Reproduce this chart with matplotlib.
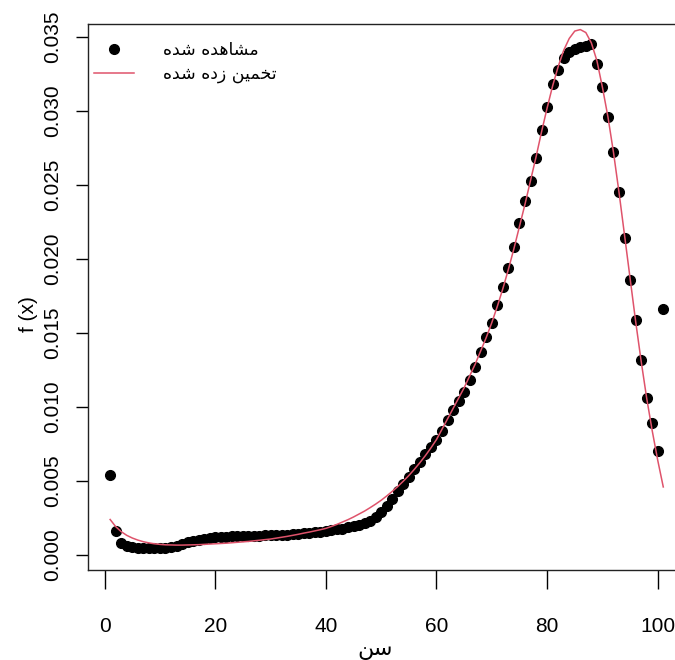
import numpy as np
import matplotlib
matplotlib.use('Agg')
import matplotlib.pyplot as plt
from matplotlib import font_manager as fm

age = np.arange(1, 102)

observed = [
    0.0054, 0.0016, 0.00082, 0.0006, 0.00052, 0.00049, 0.00047, 0.00046, 0.00046, 0.00047,
    0.00049, 0.00054, 0.00063, 0.00074, 0.00086, 0.00096, 0.00104, 0.00111, 0.00116, 0.0012,
    0.00123, 0.00125, 0.00127, 0.00128, 0.00129, 0.0013, 0.0013, 0.00131, 0.00132, 0.00133,
    0.00134, 0.00136, 0.00138, 0.00141, 0.00144, 0.00147, 0.0015, 0.00154, 0.00158, 0.00162,
    0.00167, 0.00173, 0.00179, 0.00186, 0.00194, 0.00204, 0.00216, 0.0023, 0.0026, 0.0029,
    0.0033, 0.0038, 0.0043, 0.0048, 0.0053, 0.0058, 0.0063, 0.0068, 0.0073, 0.0078,
    0.0084, 0.0091, 0.0098, 0.0104, 0.0110, 0.0118, 0.0127, 0.0137, 0.0147, 0.0157,
    0.0169, 0.0181, 0.0194, 0.0208, 0.0224, 0.0239, 0.0253, 0.0268, 0.0287, 0.0303,
    0.0318, 0.0328, 0.0336, 0.0340, 0.0342, 0.0343, 0.0344, 0.0345, 0.0332, 0.0316,
    0.0296, 0.0272, 0.0245, 0.0214, 0.0186, 0.0159, 0.0132, 0.0106, 0.0089, 0.0070,
    0.0166,
]

fitted = [
    0.0024, 0.00192, 0.00158, 0.00133, 0.00115, 0.00101, 0.0009, 0.00082, 0.00076, 0.00072,
    0.00069, 0.00068, 0.00067, 0.00067, 0.00068, 0.00069, 0.0007, 0.00072, 0.00074, 0.00076,
    0.00078, 0.0008, 0.00083, 0.00086, 0.00089, 0.00092, 0.00096, 0.001, 0.00104, 0.00108,
    0.00114, 0.0012, 0.00126, 0.00133, 0.0014, 0.00148, 0.00155, 0.00163, 0.00171, 0.0018,
    0.00193, 0.00207, 0.00223, 0.00239, 0.00257, 0.00277, 0.00297, 0.0032, 0.00344, 0.0037,
    0.00399, 0.0043, 0.00463, 0.00499, 0.00537, 0.00579, 0.00624, 0.00672, 0.00724, 0.0078,
    0.0085, 0.0092, 0.0099, 0.0106, 0.0113, 0.0121, 0.0129, 0.0138, 0.0147, 0.0157,
    0.0168, 0.018, 0.0193, 0.0207, 0.0222, 0.0237, 0.0253, 0.0269, 0.0286, 0.0302,
    0.0317, 0.033, 0.0341, 0.0349, 0.0354, 0.0355, 0.0353, 0.0346, 0.0334, 0.0316,
    0.0296, 0.0272, 0.0245, 0.0216, 0.0187, 0.0158, 0.0131, 0.0106, 0.0084, 0.0064,
    0.0046,
]

xticks = [0, 20, 40, 60, 80, 100]
yticks = [0.000, 0.005, 0.010, 0.015, 0.020, 0.025, 0.030, 0.035]

label_obs = 'مشاهده شده'
label_fit = 'تخمین زده شده'
label_x = 'سن'
label_y = 'f (x)'


# matplotlib has no arabic shaping: map letters to presentation forms
# (isolated, final, initial, medial) and flip to visual order
FORMS = {
    'ا': ('\uFE8D', '\uFE8E', None, None),
    'د': ('\uFEA9', '\uFEAA', None, None),
    'ز': ('\uFEAF', '\uFEB0', None, None),
    'ه': ('\uFEE9', '\uFEEA', '\uFEEB', '\uFEEC'),
    'م': ('\uFEE1', '\uFEE2', '\uFEE3', '\uFEE4'),
    'ش': ('\uFEB5', '\uFEB6', '\uFEB7', '\uFEB8'),
    'ت': ('\uFE95', '\uFE96', '\uFE97', '\uFE98'),
    'خ': ('\uFEA5', '\uFEA6', '\uFEA7', '\uFEA8'),
    'ی': ('\uFEF1', '\uFEF2', '\uFEF3', '\uFEF4'),
    'ن': ('\uFEE5', '\uFEE6', '\uFEE7', '\uFEE8'),
    'س': ('\uFEB1', '\uFEB2', '\uFEB3', '\uFEB4'),
}


def shape(s):
    out = []
    for i, ch in enumerate(s):
        if ch not in FORMS:
            out.append(ch)
            continue
        prev = s[i - 1] if i > 0 else ''
        nxt = s[i + 1] if i + 1 < len(s) else ''
        j_prev = prev in FORMS and FORMS[prev][2] is not None
        j_next = nxt in FORMS and FORMS[ch][2] is not None
        if j_prev and j_next:
            out.append(FORMS[ch][3])
        elif j_prev:
            out.append(FORMS[ch][1])
        elif j_next:
            out.append(FORMS[ch][2])
        else:
            out.append(FORMS[ch][0])
    return ''.join(out[::-1])


names = {f.name for f in fm.fontManager.ttflist}
narrow = 'Liberation Sans Narrow' if 'Liberation Sans Narrow' in names else 'Liberation Sans'

plt.rcParams['font.family'] = ['Liberation Sans', 'DejaVu Sans']

fig = plt.figure(figsize=(6.75, 6.6), dpi=100)
ax = fig.add_axes([0.1304, 0.1364, 0.885, 0.8273])

ax.plot(age, observed, 'o', ls='none', color='black', ms=7, label=shape(label_obs))
ax.plot(age, fitted, '-', color='#DF536B', lw=1.1, label=shape(label_fit))

ax.set_xlim(-3, 105)
ax.set_ylim(-0.00101, 0.03588)

ax.set_xticks(xticks)
ax.set_xticklabels([str(v) for v in xticks], fontsize=15, family=narrow)
ax.set_yticks(yticks)
ax.set_yticklabels(['%.3f' % v for v in yticks], fontsize=15, rotation=90, va='center')
ax.tick_params(axis='x', length=14, width=1, pad=20)
ax.tick_params(axis='y', length=9, width=1, pad=10)

for sp in ax.spines.values():
    sp.set_linewidth(1.0)
    sp.set_color('#222222')

ax.set_xlabel(shape(label_x), fontsize=16, family=['DejaVu Sans'])
ax.xaxis.label.set_verticalalignment('center')
ax.xaxis.set_label_coords(0.48, -0.146)
ax.set_ylabel(label_y, fontsize=15)
ax.yaxis.label.set_verticalalignment('center')
ax.yaxis.set_label_coords(-0.10, 0.469)

ax.legend(loc='upper left', bbox_to_anchor=(-0.009, 0.99), frameon=False,
          prop={'family': 'DejaVu Sans', 'size': 12.5},
          numpoints=1, handlelength=2.3, handletextpad=1.7,
          borderaxespad=0.25, borderpad=0.4, labelspacing=0.35)

fig.savefig('out.png', dpi=100)
